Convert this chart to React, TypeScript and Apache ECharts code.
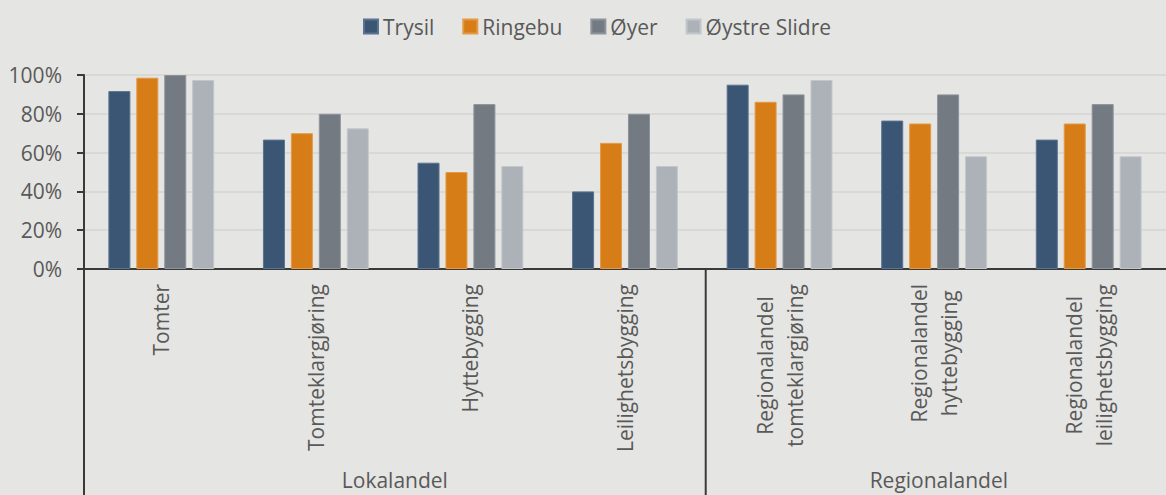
import React, { useEffect, useRef } from "react";
import * as echarts from "echarts";

const categories = [
  "Tomter",
  "Tomteklargjøring",
  "Hyttebygging",
  "Leilighetsbygging",
  "Regionalandel\ntomteklargjøring",
  "Regionalandel\nhyttebygging",
  "Regionalandel\nleilighetsbygging",
];
const groups = ["Lokalandel", "Regionalandel"];
const seriesNames = ["Trysil", "Ringebu", "Øyer", "Øystre Slidre"];
const trysil = [91.7, 66.7, 54.8, 40, 95, 76.5, 66.7];
const ringebu = [98.6, 70, 50, 65, 86.2, 75, 75];
const oyer = [100, 80, 85, 80, 90, 90, 85];
const oystreSlidre = [97.4, 72.5, 53.1, 53.1, 97.4, 58.1, 58.1];
const yTicks = [0, 20, 40, 60, 80, 100];

const colors = ["#3a5674", "#d67d17", "#737a82", "#acb2b8"];
const borders = ["#5a7390", "#e49a45", "#8d939a", "#c2c7cc"];
const FONT = "Open Sans";
const TEXT = "#595959";
const FS = 21;

export default function App() {
  const ref = useRef<HTMLDivElement>(null);
  useEffect(() => {
    document.body.style.margin = "0";
    const chart = echarts.init(ref.current!, null, { renderer: "svg" });
    const data = [trysil, ringebu, oyer, oystreSlidre];
    const gridLeft = 84;
    const gridTop = 75;
    const gridH = 194;
    const gridW = 1088;
    const catW = gridW / categories.length;
    const axisY = gridTop + gridH;
    chart.setOption({
      animation: false,
      backgroundColor: "#e5e5e3",
      textStyle: { fontFamily: FONT },
      legend: {
        data: seriesNames,
        left: 363,
        top: 16,
        padding: 0,
        icon: "rect",
        itemWidth: 14,
        itemHeight: 14,
        itemGap: 28,
        textStyle: { fontSize: FS, color: TEXT, fontFamily: FONT },
      },
      grid: { left: gridLeft, top: gridTop, width: gridW, height: gridH },
      xAxis: {
        type: "category",
        data: categories,
        axisLine: { show: true, lineStyle: { color: "#3a3a3a", width: 2 } },
        axisTick: { show: false },
        axisLabel: {
          interval: 0,
          rotate: 90,
          margin: 15,
          color: TEXT,
          fontSize: FS,
          fontFamily: FONT,
          lineHeight: 30,
          formatter: (v: string) =>
            v
              .split("\n")
              .map((s) => `{c|${s}}`)
              .join("\n"),
          rich: {
            c: {
              align: "center",
              fontSize: FS,
              fontFamily: FONT,
              color: TEXT,
              lineHeight: 30,
            },
          },
        },
      },
      yAxis: {
        type: "value",
        min: 0,
        max: 100,
        interval: 20,
        axisLine: { show: true, lineStyle: { color: "#3a3a3a", width: 2 } },
        axisTick: {
          show: true,
          length: 7,
          lineStyle: { color: "#3a3a3a", width: 2 },
        },
        splitLine: { show: true, lineStyle: { color: "#d8d8d6", width: 2 } },
        axisLabel: {
          margin: 22,
          color: TEXT,
          fontSize: FS,
          fontFamily: FONT,
          formatter: (v: number) => (yTicks.includes(v) ? `${v}%` : ""),
        },
      },
      series: seriesNames.map((name, i) => ({
        name,
        type: "bar",
        data: data[i],
        barWidth: 22,
        barGap: "27%",
        itemStyle: { color: colors[i], borderColor: borders[i], borderWidth: 1 },
      })),
      graphic: [
        {
          type: "line",
          shape: { x1: gridLeft, y1: axisY, x2: gridLeft, y2: 495 },
          style: { stroke: "#3a3a3a", lineWidth: 2 },
        },
        {
          type: "line",
          shape: {
            x1: gridLeft + catW * 4,
            y1: axisY,
            x2: gridLeft + catW * 4,
            y2: 495,
          },
          style: { stroke: "#3a3a3a", lineWidth: 2 },
        },
        {
          type: "text",
          x: gridLeft + catW * 2,
          y: 480,
          style: {
            text: groups[0],
            fontSize: FS,
            fontFamily: FONT,
            fill: TEXT,
            textAlign: "center",
            textVerticalAlign: "middle",
          },
        },
        {
          type: "text",
          x: gridLeft + catW * 5.5,
          y: 480,
          style: {
            text: groups[1],
            fontSize: FS,
            fontFamily: FONT,
            fill: TEXT,
            textAlign: "center",
            textVerticalAlign: "middle",
          },
        },
      ],
    });
    return () => chart.dispose();
  }, []);
  return <div ref={ref} style={{ width: 1166, height: 495 }} />;
}
